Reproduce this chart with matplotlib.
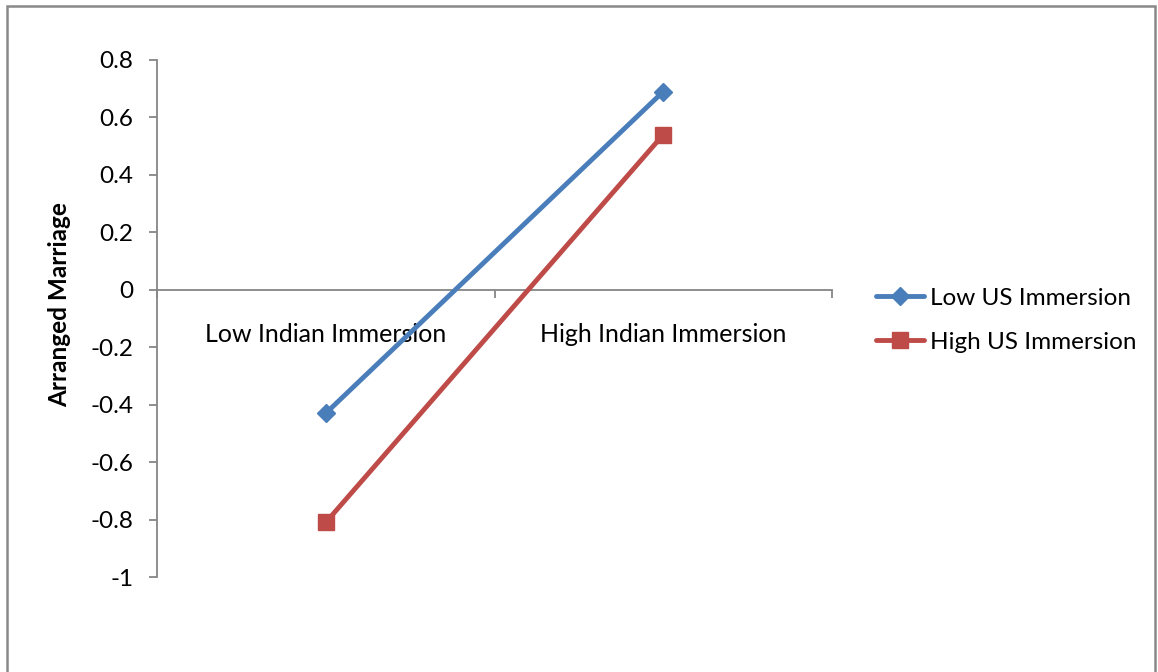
import matplotlib
matplotlib.use("Agg")
import matplotlib.pyplot as plt
from matplotlib.patches import Rectangle

categories = ["Low Indian Immersion", "High Indian Immersion"]
series_names = ["Low US Immersion", "High US Immersion"]
low_us = [-0.43, 0.69]
high_us = [-0.81, 0.54]
y_ticks = [0.8, 0.6, 0.4, 0.2, 0, -0.2, -0.4, -0.6, -0.8, -1]
y_tick_labels = ["0.8", "0.6", "0.4", "0.2", "0", "-0.2", "-0.4", "-0.6", "-0.8", "-1"]

W, H = 1158, 672
fig = plt.figure(figsize=(W / 100, H / 100), dpi=100)
font = "Lato"
fs = 17.5
axis_grey = "#868686"

# chart-area frame
fig.patches.append(Rectangle((7 / W, -0.05), (1155 - 7) / W, 1.05 - 6 / H,
                             transform=fig.transFigure, fill=False,
                             edgecolor="#898989", linewidth=1.8))

left, right, top, bottom = 157, 832, 60, 577
ax = fig.add_axes([left / W, (H - bottom) / H, (right - left) / W, (bottom - top) / H])

x = list(range(len(categories)))
ax.plot(x, low_us, color="#4A7EBB", linewidth=3.5, marker="D", markersize=9.5,
        label=series_names[0], solid_capstyle="round", zorder=3)
ax.plot(x, high_us, color="#BE4B48", linewidth=3.5, marker="s", markersize=12,
        label=series_names[1], solid_capstyle="round", zorder=3)

ax.set_xlim(-0.5, len(categories) - 0.5)
ax.set_ylim(-1, 0.8)

for s in ["top", "right"]:
    ax.spines[s].set_visible(False)
ax.spines["left"].set_color(axis_grey)
ax.spines["bottom"].set_color(axis_grey)
ax.spines["left"].set_linewidth(1.3)
ax.spines["bottom"].set_linewidth(1.3)
ax.spines["bottom"].set_position(("data", 0))

ax.set_yticks(y_ticks)
ax.set_yticklabels(y_tick_labels, fontsize=fs, family=font)
ax.tick_params(axis="y", direction="out", length=6, width=1.3, color=axis_grey, pad=11)

ax.set_xticks([-0.5, 0.5, 1.5])
ax.set_xticklabels([])
ax.tick_params(axis="x", which="major", direction="out", length=6, width=1.3, color=axis_grey)
ax.set_xticks(x, minor=True)
ax.set_xticklabels(categories, minor=True, fontsize=18, family=font)
ax.tick_params(axis="x", which="minor", length=0, pad=24)

ax.set_ylabel("Arranged Marriage", fontsize=fs, fontweight="bold", family=font)
ax.yaxis.set_label_coords(-86 / (right - left), (bottom - 305) / (bottom - top))

leg = fig.legend(loc="upper left", bbox_to_anchor=(866 / W, 1 - 278 / H), frameon=False,
                 prop={"family": font, "size": fs}, handlelength=2.0,
                 handletextpad=0.25, labelspacing=0.95, borderaxespad=0)

fig.savefig("out.png", dpi=100)
